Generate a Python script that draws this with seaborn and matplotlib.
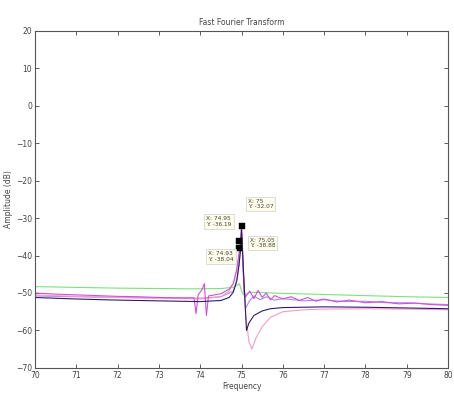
import numpy as np
import pandas as pd
import matplotlib
matplotlib.use("Agg")
import matplotlib.pyplot as plt
import seaborn as sns

# ---- data ----
freq_green = [70, 71, 72, 73, 73.8, 74.5, 74.8, 74.95, 75.0, 75.05, 75.2, 75.5, 76, 77, 78, 79, 80]
amp_green = [-48.3, -48.5, -48.7, -48.8, -48.9, -48.8, -48.5, -47.5, -49.5, -50.5, -49.8, -49.9, -50.1, -50.4, -50.7, -51.0, -51.2]

freq_navy = [70, 71, 72, 73, 74, 74.5, 74.7, 74.8, 74.88, 74.94, 74.98, 75.0, 75.05, 75.12, 75.18, 75.3, 75.5, 75.7, 76, 77, 78, 79, 80]
amp_navy = [-51.2, -51.6, -51.9, -52.1, -52.3, -52.0, -51.2, -49.8, -47.0, -42.5, -38.0, -33.0, -45.0, -60.0, -58.0, -56.0, -54.8, -54.2, -53.9, -53.7, -53.8, -54.0, -54.2]

freq_mag = [70, 70.5, 71, 71.5, 72, 72.5, 73, 73.5, 73.85, 73.9, 73.95, 74.05, 74.1, 74.15, 74.2, 74.3, 74.5, 74.7, 74.8, 74.88,
            74.94, 74.98, 75.0, 75.03, 75.06, 75.1, 75.2, 75.3, 75.4, 75.5, 75.6, 75.7, 75.8, 76.0, 76.2, 76.4, 76.6, 76.8, 77.0,
            77.3, 77.6, 78, 78.4, 78.8, 79.2, 79.6, 80]
amp_mag = [-50.0, -50.3, -50.5, -50.7, -50.9, -51.0, -51.2, -51.3, -51.3, -55.5, -50.5, -49.0, -47.5, -56.0, -50.8, -50.6,
           -50.2, -49.0, -47.5, -44.0, -39.5, -35.5, -32.1, -40.0, -50.0, -51.0, -49.5, -51.5, -49.3, -51.2, -50.0, -51.8,
           -50.7, -51.6, -51.0, -52.0, -51.2, -52.2, -51.6, -52.4, -51.9, -52.6, -52.3, -52.9, -52.7, -53.1, -53.3]

freq_pink = [70, 71, 72, 73, 74, 74.5, 74.7, 74.8, 74.88, 74.94, 74.98, 75.0, 75.05, 75.1, 75.18, 75.25, 75.35, 75.5, 75.7,
             76.0, 76.5, 77, 78, 79, 80]
amp_pink = [-50.5, -50.9, -51.2, -51.4, -51.6, -51.0, -49.5, -47.5, -44.0, -40.0, -36.0, -33.5, -45.0, -56.0, -63.0, -65.0,
            -62.0, -59.0, -56.5, -55.0, -54.5, -54.3, -54.2, -54.3, -54.5]

freq_lav = [70, 71, 72, 73, 74, 74.5, 74.8, 74.9, 74.96, 75.0, 75.04, 75.1, 75.2, 75.3, 75.45, 75.6, 75.8, 76, 76.5, 77,
            77.5, 78, 78.5, 79, 79.5, 80]
amp_lav = [-50.8, -51.0, -51.2, -51.3, -51.4, -51.0, -49.5, -46.0, -40.0, -34.0, -44.0, -54.0, -52.0, -50.8, -51.8, -51.0,
           -51.9, -51.5, -52.1, -51.8, -52.3, -52.2, -52.6, -52.6, -52.9, -53.1]

series_names = ["green", "lavender", "pink", "magenta", "navy"]
series_colors = ["#7ee07e", "#a48cf0", "#f59cc4", "#d24fd8", "#2e1d6b"]

tip_x = [75.0, 74.95, 74.93]
tip_y = [-32.07, -36.19, -38.04]
tip_labels = ["X: 75\nY: -32.07", "X: 74.95\nY: -36.19", "X: 74.93\nY: -38.04", "X: 75.05\nY: -38.88"]
tip_label_pos = [(75.15, -24.8), (74.15, -29.5), (74.2, -38.9), (75.2, -35.2)]

x_ticks = list(range(70, 81))
y_ticks = list(range(-70, 21, 10))

title = "Fast Fourier Transform"
x_label = "Frequency"
y_label = "Amplitude (dB)"

# ---- build long table ----
frames = []
for name, f, a in [("green", freq_green, amp_green), ("lavender", freq_lav, amp_lav), ("pink", freq_pink, amp_pink),
                   ("magenta", freq_mag, amp_mag), ("navy", freq_navy, amp_navy)]:
    frames.append(pd.DataFrame({"freq": f, "amp": a, "series": name}))
df = pd.concat(frames, ignore_index=True)

sns.set_style("white")
fig = plt.figure(figsize=(4.54, 3.96), dpi=100)
ax = fig.add_axes([0.077, 0.071, 0.91, 0.851])

sns.lineplot(data=df, x="freq", y="amp", hue="series", hue_order=series_names,
             palette=dict(zip(series_names, series_colors)), sort=False, estimator=None,
             linewidth=0.8, legend=False, ax=ax)

sns.scatterplot(x=tip_x, y=tip_y, marker="s", color="black", s=14, edgecolor="black", ax=ax, zorder=5)

for lab, (px, py) in zip(tip_labels, tip_label_pos):
    ax.text(px, py, lab, fontsize=4.2, va="top", ha="left", color="#444444",
            bbox=dict(boxstyle="square,pad=0.35", facecolor="#fdfdea", edgecolor="#cfcfcf", linewidth=0.5), zorder=6)

ax.set_xlim(70, 80)
ax.set_ylim(-70, 20)
ax.set_xticks(x_ticks)
ax.set_yticks(y_ticks)
ax.tick_params(direction="in", length=3, width=0.6, labelsize=5.5, colors="#444444",
               top=True, right=True, bottom=True, left=True, pad=2)
for s in ax.spines.values():
    s.set_visible(True)
    s.set_linewidth(0.8)
    s.set_color("#555555")
ax.set_title(title, fontsize=5.5, color="#444444", pad=4)
ax.set_xlabel(x_label, fontsize=5.5, color="#444444", labelpad=2)
ax.set_ylabel(y_label, fontsize=5.5, color="#444444", labelpad=2)

fig.savefig("out.png", dpi=100)
